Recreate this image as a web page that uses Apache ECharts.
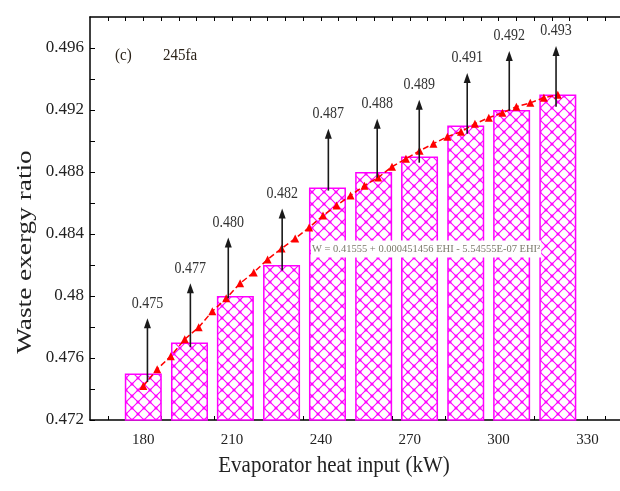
<!DOCTYPE html>
<html>
<head>
<meta charset="utf-8">
<script src="https://cdn.jsdelivr.net/npm/echarts@6/dist/echarts.min.js"></script>
<style>
  html, body { margin: 0; padding: 0; background: #fff; }
  #chart { width: 620px; height: 491px; }
</style>
</head>
<body>
<div id="chart"></div>
<script>
// bars: evaporator heat input (kW) and waste exergy ratio
const EHI_BAR = [180, 195.6, 211.1, 226.7, 242.2, 257.8, 273.3, 288.9, 304.4, 320];
const RATIO_BAR = [0.475, 0.477, 0.480, 0.482, 0.487, 0.488, 0.489, 0.491, 0.492, 0.493];

// fitted curve (red triangles)
const EHI_FIT = [180, 184.7, 189.3, 194, 198.7, 203.3, 208, 212.7, 217.3, 222, 226.7,
  231.3, 236, 240.7, 245.3, 250, 254.7, 259.3, 264, 268.7, 273.3,
  278, 282.7, 287.3, 292, 296.7, 301.3, 306, 310.7, 315.3, 320];
const RATIO_FIT = [0.47419, 0.47528, 0.47612, 0.47721, 0.47798, 0.47901, 0.47985, 0.48082, 0.48152, 0.48236, 0.48307,
  0.48371, 0.48442, 0.48519, 0.48584, 0.48648, 0.48712, 0.48764, 0.48834, 0.48886, 0.48937,
  0.48983, 0.49028, 0.49060, 0.49111, 0.49150, 0.49182, 0.49221, 0.49246, 0.49279, 0.49298];

// annotation arrows
const ARROW_X = [181.4, 195.9, 208.7, 226.9, 242.5, 259.0, 273.2, 289.4, 303.6, 319.4];
const ARROW_FROM = [0.47445, 0.4767, 0.47985, 0.48165, 0.4868, 0.48764, 0.4886, 0.49047, 0.49195, 0.49221];
const ARROW_TO = [0.47856, 0.48082, 0.48378, 0.48564, 0.49079, 0.49143, 0.49266, 0.49439, 0.49581, 0.49613];
const ARROW_LABELS = ['0.475', '0.477', '0.480', '0.482', '0.487', '0.488', '0.489', '0.491', '0.492', '0.493'];

// axis ticks
const X_LABELS = [180, 210, 240, 270, 300, 330];
const X_TICKS = [168, 174, 180, 186, 192, 198, 204, 210, 216, 222, 228, 234, 240, 246, 252, 258,
  264, 270, 276, 282, 288, 294, 300, 306, 312, 318, 324, 330, 336];
const Y_LABELS = [0.472, 0.476, 0.48, 0.484, 0.488, 0.492, 0.496];
const Y_TICKS = [0.472, 0.474, 0.476, 0.478, 0.48, 0.482, 0.484, 0.486, 0.488, 0.49, 0.492, 0.494, 0.496];

const FONT = '"Liberation Serif", "DejaVu Serif", serif';

// magenta cross hatch
function hatch () {
  const c = document.createElement('canvas');
  c.width = 12; c.height = 12;
  const g = c.getContext('2d');
  g.fillStyle = '#fff';
  g.fillRect(0, 0, 12, 12);
  g.strokeStyle = '#ff00ff';
  g.lineWidth = 1.1;
  g.beginPath();
  g.moveTo(0, 0); g.lineTo(12, 12);
  g.moveTo(12, 0); g.lineTo(0, 12);
  g.stroke();
  g.fillStyle = '#ff00ff';
  [[0, 0], [12, 0], [0, 12], [12, 12], [6, 6]].forEach(p => {
    g.beginPath(); g.arc(p[0], p[1], 1.5, 0, Math.PI * 2); g.fill();
  });
  return c;
}

function renderArrow (params, api) {
  const x = api.value(0);
  const p0 = api.coord([x, api.value(1)]);
  const p1 = api.coord([x, api.value(2)]);
  return {
    type: 'group',
    children: [
      { type: 'line', shape: { x1: p0[0], y1: p0[1], x2: p1[0], y2: p1[1] + 6 },
        style: { stroke: '#1a1a1a', lineWidth: 1.6 } },
      { type: 'polygon', shape: { points: [[p1[0], p1[1]], [p1[0] - 3.5, p1[1] + 10], [p1[0] + 3.5, p1[1] + 10]] },
        style: { fill: '#1a1a1a' } },
      { type: 'text', x: p1[0], y: p1[1] - 15, scaleY: 1.15,
        style: { text: ARROW_LABELS[params.dataIndex], font: '14px ' + FONT, fill: '#333',
          textAlign: 'center', textVerticalAlign: 'middle' } }
    ]
  };
}

const chart = echarts.init(document.getElementById('chart'));
chart.setOption({
  animation: false,
  grid: { left: 90, right: 0, top: 17, bottom: 71 },
  xAxis: [{
    type: 'value', min: 162, max: 341,
    axisLine: { lineStyle: { color: '#000', width: 1.5 } },
    axisTick: { inside: true, length: 4, customValues: X_TICKS, lineStyle: { color: '#000' } },
    axisLabel: { customValues: X_LABELS, fontFamily: FONT, fontSize: 15, color: '#222', margin: 13 },
    splitLine: { show: false }
  }, {
    type: 'value', min: 162, max: 341, position: 'top',
    axisLine: { lineStyle: { color: '#000', width: 1.5 } },
    axisTick: { inside: true, length: 4, customValues: X_TICKS, lineStyle: { color: '#000' } },
    axisLabel: { show: false },
    splitLine: { show: false }
  }],
  yAxis: {
    type: 'value', min: 0.472, max: 0.498,
    axisLine: { show: true, lineStyle: { color: '#000', width: 1.5 } },
    axisTick: { show: true, inside: true, length: 5, customValues: Y_TICKS, lineStyle: { color: '#000' } },
    axisLabel: { customValues: Y_LABELS, fontFamily: FONT, fontSize: 17, color: '#222', margin: 6 },
    splitLine: { show: false }
  },
  graphic: [
    { type: 'text', x: 115, y: 55, scaleY: 1.15, style: { text: '(c)', font: '15px ' + FONT, fill: '#2a2218', textVerticalAlign: 'middle' } },
    { type: 'text', x: 163, y: 55, scaleY: 1.15, style: { text: '245fa', font: '15px ' + FONT, fill: '#2a2218', textVerticalAlign: 'middle' } },
    { type: 'text', x: 311, y: 249, z: 100,
      style: { text: 'W = 0.41555 + 0.000451456 EHI - 5.54555E-07 EHI²', font: '10.5px ' + FONT, fill: '#7a7a6a',
        textVerticalAlign: 'middle', backgroundColor: '#fff', padding: [3, 1] } },
    { type: 'text', x: 25, y: 252, rotation: Math.PI / 2, scaleX: 1.3,
      style: { text: 'Waste exergy ratio', font: '21px ' + FONT, fill: '#222',
        textAlign: 'center', textVerticalAlign: 'middle' } },
    { type: 'text', x: 334, y: 466, scaleY: 1.1,
      style: { text: 'Evaporator heat input (kW)', font: '21px ' + FONT, fill: '#222',
        textAlign: 'center', textVerticalAlign: 'middle' } }
  ],
  series: [
    {
      type: 'bar',
      barWidth: 37,
      data: EHI_BAR.map((x, i) => [x, RATIO_BAR[i]]),
      itemStyle: {
        color: { image: hatch(), repeat: 'repeat' },
        borderColor: '#ff00ff',
        borderWidth: 1.5
      },
      z: 1
    },
    {
      type: 'line',
      data: EHI_FIT.map((x, i) => [x, RATIO_FIT[i]]),
      symbol: 'triangle',
      symbolSize: 8,
      itemStyle: { color: '#ff0000' },
      lineStyle: { color: '#ff0000', width: 1.5, type: 'dashed' },
      z: 3
    },
    {
      type: 'custom',
      renderItem: renderArrow,
      data: ARROW_X.map((x, i) => [x, ARROW_FROM[i], ARROW_TO[i]]),
      encode: { x: 0, y: [1, 2] },
      z: 4
    }
  ]
});
</script>
</body>
</html>
